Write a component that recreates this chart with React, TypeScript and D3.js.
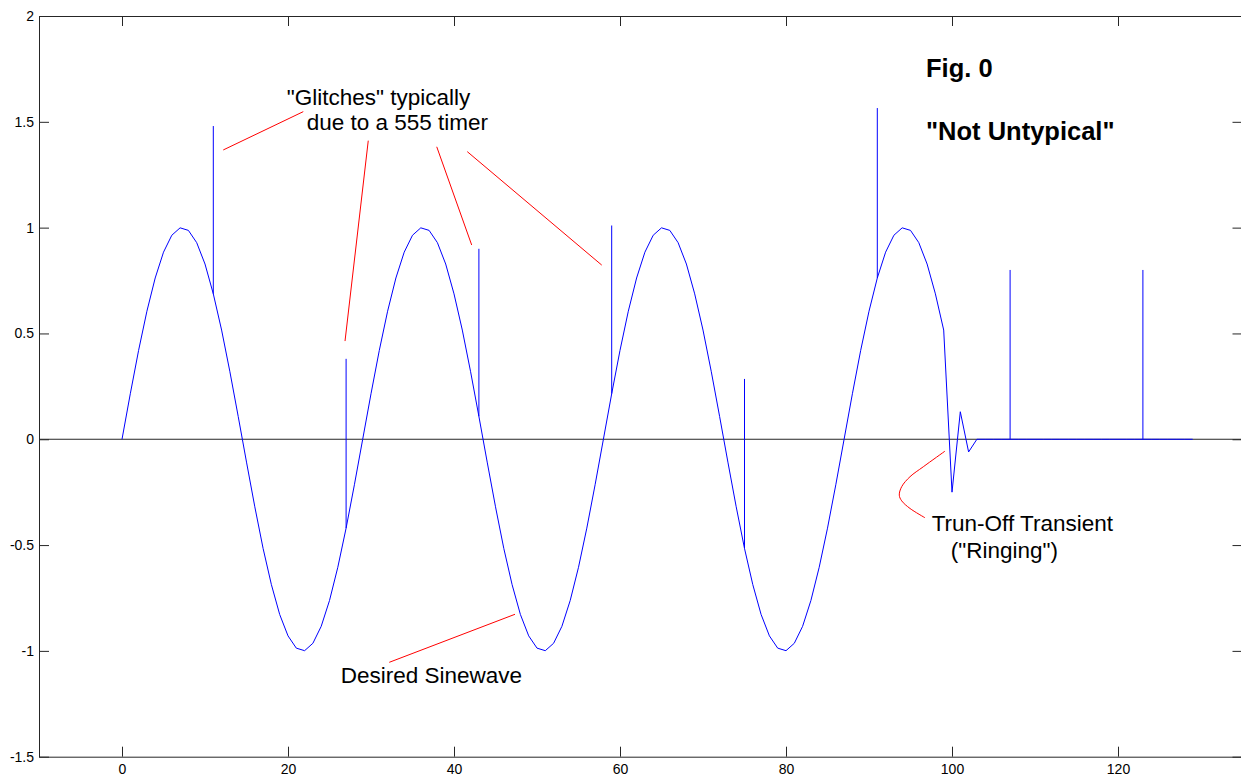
import { useEffect, useRef } from 'react';
import * as d3 from 'd3';

// sampled signal, one value per x = 0..129
const signal: number[] = [
    0, 0.215, 0.42, 0.605, 0.762, 0.884, 0.964, 0.999, 0.987, 0.929, 0.828, 0.687, 0.516, 0.319, 0.108,
    -0.108, -0.319, -0.516, -0.687, -0.828, -0.929, -0.987, -0.999, -0.964, -0.884, -0.762, -0.605, -0.42, -0.215,
    0, 0.215, 0.42, 0.605, 0.762, 0.884, 0.964, 0.999, 0.987, 0.929, 0.828, 0.687, 0.516, 0.319, 0.108,
    -0.108, -0.319, -0.516, -0.687, -0.828, -0.929, -0.987, -0.999, -0.964, -0.884, -0.762, -0.605, -0.42, -0.215,
    0, 0.215, 0.42, 0.605, 0.762, 0.884, 0.964, 0.999, 0.987, 0.929, 0.828, 0.687, 0.516, 0.319, 0.108,
    -0.108, -0.319, -0.516, -0.687, -0.828, -0.929, -0.987, -0.999, -0.964, -0.884, -0.762, -0.605, -0.42, -0.215,
    0, 0.215, 0.42, 0.605, 0.762, 0.884, 0.964, 0.999, 0.987, 0.929, 0.828, 0.687, 0.516,
    -0.25, 0.13, -0.06,
    0, 0, 0, 0, 0, 0, 0, 0, 0, 0, 0, 0, 0, 0, 0, 0, 0, 0, 0, 0, 0, 0, 0, 0, 0, 0, 0,
];

// glitch spikes: x position and the value they jump to
const glitchX = [11, 27, 43, 59, 75, 91, 107, 123];
const glitchTop = [1.48, 0.38, 0.9, 1.01, 0.285, 1.565, 0.8, 0.8];

const xTicks = [0, 20, 40, 60, 80, 100, 120];
const yTicks = [-1.5, -1, -0.5, 0, 0.5, 1, 1.5, 2];

// red pointer lines, in data units
const pointers: Array<[[number, number], [number, number]]> = [
    [[12.2, 1.367], [21.84, 1.548]],
    [[29.67, 1.411], [26.87, 0.464]],
    [[37.92, 1.382], [42.13, 0.918]],
    [[41.6, 1.359], [57.8, 0.823]],
    [[32.2, -1.054], [47.35, -0.827]],
];
const ringingPointer: Array<[number, number]> = [
    [99.16, -0.056], [96.54, -0.13], [94.94, -0.177], [93.94, -0.224],
    [93.65, -0.264], [93.94, -0.291], [94.94, -0.327], [96.75, -0.371],
];

const notes = [
    { text: '"Glitches" typically', x: 19.84, y: 1.579, bold: false },
    { text: 'due to a 555 timer', x: 22.25, y: 1.461, bold: false },
    { text: 'Fig. 0', x: 96.87, y: 1.71, bold: true },
    { text: '"Not Untypical"', x: 96.87, y: 1.414, bold: true },
    { text: 'Desired Sinewave', x: 26.35, y: -1.153, bold: false },
    { text: 'Trun-Off Transient', x: 97.55, y: -0.434, bold: false },
    { text: '("Ringing")', x: 99.84, y: -0.563, bold: false },
];

const FONT = '"Liberation Sans", Arial, sans-serif';

export default function App() {
    const svgRef = useRef<SVGSVGElement>(null);

    useEffect(() => {
        if (!svgRef.current) return;
        const svg = d3.select(svgRef.current);
        svg.selectAll('*').remove();

        const left = 39, right = 1242.5, top = 16, bottom = 756.7;
        const x = d3.scaleLinear().domain([-10, 135]).range([left, right]);
        const y = d3.scaleLinear().domain([-1.5, 2]).range([bottom, top]);

        const axisColor = '#262626';
        const styleAxis = (g: any, labels: boolean) => {
            g.select('.domain').attr('stroke', axisColor);
            g.selectAll('.tick line').attr('stroke', axisColor);
            g.selectAll('.tick text')
                .attr('fill', labels ? '#000' : 'none')
                .attr('font-size', '14px')
                .attr('font-family', FONT);
        };

        svg.append('g')
            .attr('transform', `translate(0,${bottom})`)
            .call(d3.axisBottom(x).tickValues(xTicks).tickSize(-10).tickSizeOuter(0).tickPadding(7).tickFormat(d3.format('d')))
            .call(g => styleAxis(g, true));
        svg.append('g')
            .attr('transform', `translate(0,${top})`)
            .call(d3.axisTop(x).tickValues(xTicks).tickSize(-10).tickSizeOuter(0).tickFormat(() => ''))
            .call(g => styleAxis(g, false));
        svg.append('g')
            .attr('transform', `translate(${left},0)`)
            .call(d3.axisLeft(y).tickValues(yTicks).tickSize(-10).tickSizeOuter(0).tickPadding(5).tickFormat(d => String(d)))
            .call(g => styleAxis(g, true));
        svg.append('g')
            .attr('transform', `translate(${right},0)`)
            .call(d3.axisRight(y).tickValues(yTicks).tickSize(-10).tickSizeOuter(0).tickFormat(() => ''))
            .call(g => styleAxis(g, false));

        // zero line
        svg.append('line')
            .attr('x1', x(-10)).attr('x2', x(135))
            .attr('y1', y(0)).attr('y2', y(0))
            .attr('stroke', axisColor).attr('stroke-width', 1);

        // signal
        const line = d3.line<number>().x((_, i) => x(i)).y(d => y(d));
        svg.append('path')
            .datum(signal)
            .attr('d', line)
            .attr('fill', 'none')
            .attr('stroke', '#0000ff')
            .attr('stroke-width', 1);

        svg.selectAll('.glitch')
            .data(glitchX)
            .enter()
            .append('line')
            .attr('class', 'glitch')
            .attr('x1', d => x(d)).attr('x2', d => x(d))
            .attr('y1', d => y(signal[d])).attr('y2', (_, i) => y(glitchTop[i]))
            .attr('stroke', '#0000ff')
            .attr('stroke-width', 1);

        // annotations
        svg.selectAll('.pointer')
            .data(pointers)
            .enter()
            .append('line')
            .attr('class', 'pointer')
            .attr('x1', d => x(d[0][0])).attr('y1', d => y(d[0][1]))
            .attr('x2', d => x(d[1][0])).attr('y2', d => y(d[1][1]))
            .attr('stroke', '#ff0000')
            .attr('stroke-width', 1);

        svg.append('path')
            .datum(ringingPointer)
            .attr('d', d3.line<[number, number]>().x(d => x(d[0])).y(d => y(d[1])).curve(d3.curveCatmullRom))
            .attr('fill', 'none')
            .attr('stroke', '#ff0000')
            .attr('stroke-width', 1);

        svg.selectAll('.note')
            .data(notes)
            .enter()
            .append('text')
            .attr('class', 'note')
            .attr('x', d => x(d.x))
            .attr('y', d => y(d.y))
            .attr('font-family', FONT)
            .attr('font-size', d => d.bold ? '25.5px' : '22.5px')
            .attr('font-weight', d => d.bold ? 700 : 400)
            .attr('fill', '#000')
            .text(d => d.text);
    }, []);

    return (
        <div>
            <style>{`body{margin:0;overflow:hidden;background:#fff}`}</style>
            <svg ref={svgRef} width={1241} height={776} style={{ display: 'block' }} />
        </div>
    );
}
